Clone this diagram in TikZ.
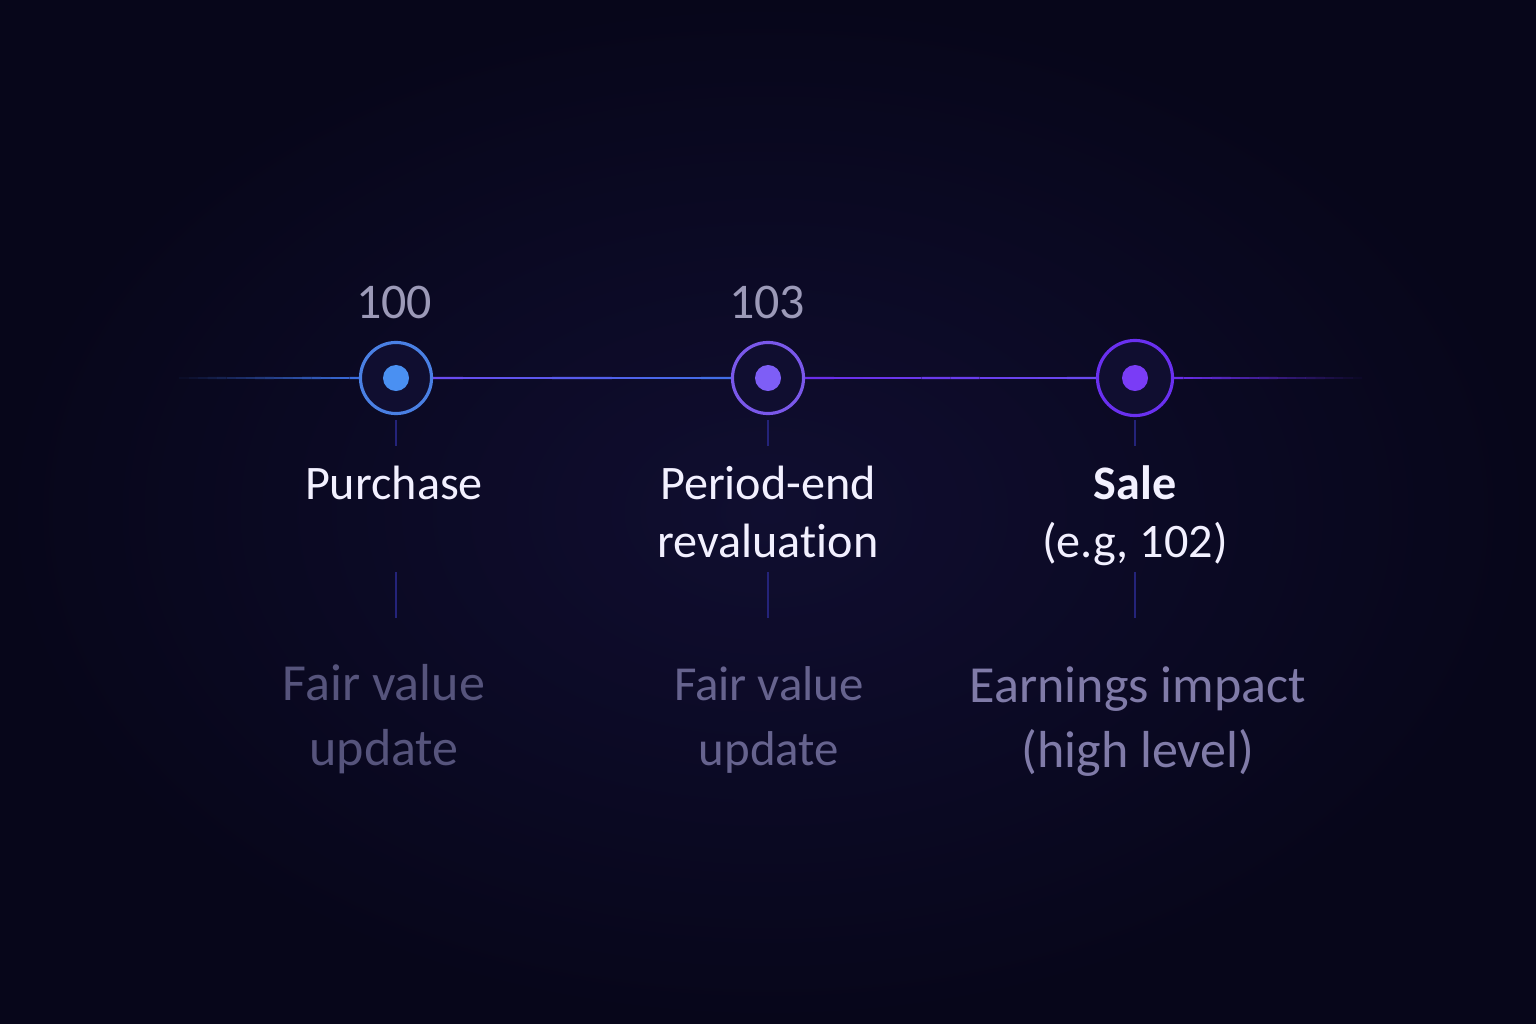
\documentclass[tikz,border=0pt]{standalone}
\usepackage{fontspec}
\setmainfont{Carlito}[Ligatures=NoCommon]
\usetikzlibrary{positioning, calc}
\definecolor{bgin}{HTML}{100E30}
\definecolor{bgout}{HTML}{07061A}
\definecolor{lineA}{HTML}{3D72E6}
\definecolor{lineB}{HTML}{6A4CF0}
\definecolor{lineC}{HTML}{6A2EEA}
\definecolor{ringA}{HTML}{4A80E4}
\definecolor{ringB}{HTML}{7A58EA}
\definecolor{ringC}{HTML}{6A30F0}
\definecolor{dotA}{HTML}{4A90F2}
\definecolor{dotB}{HTML}{7E5EF6}
\definecolor{dotC}{HTML}{7A3CF6}
\definecolor{numgray}{HTML}{9C9AB8}
\definecolor{labwhite}{HTML}{F2F0FF}
\definecolor{tickcol}{HTML}{24237A}
\definecolor{subA}{HTML}{56547C}
\definecolor{subB}{HTML}{66638E}
\definecolor{subC}{HTML}{807BA8}

\tikzset{
  ring/.style={draw, circle, line width=0.9pt, fill=bgin, inner sep=0pt, minimum size=0.71cm},
  dot/.style={circle, inner sep=0pt, minimum size=0.26cm},
  numlabel/.style={anchor=north, inner sep=0pt, text=numgray, font=\fontsize{14.2pt}{17pt}\selectfont},
  steplabel/.style={anchor=north, inner sep=0pt, align=center, text=labwhite, font=\fontsize{13.7pt}{16.5pt}\selectfont},
  sublabel/.style={anchor=north, inner sep=0pt, align=center, font=\fontsize{14.8pt}{18.5pt}\selectfont},
  tick/.style={tickcol, line width=0.3pt},
  mainline/.style={line width=0.6pt}
}

\begin{document}
\begin{tikzpicture}[x=0.01cm, y=-0.01cm]
\def\liney{378}

%Background
\useasboundingbox (0,0) rectangle (1536,1024);
\shade[inner color=bgin, outer color=bgout] (0,0) rectangle (1536,1024);

%Timeline points
\node (pur) at (396,\liney) [ring, draw=ringA] {};
\node (per) at (768,\liney) [ring, draw=ringB] {};
\node (sal) at (1135,\liney) [ring, draw=ringC, minimum size=0.75cm] {};
\coordinate (lstart) at (170,\liney);
\coordinate (lend) at (1362,\liney);

%Line
\foreach \i in {0,...,19} {
  \pgfmathsetmacro{\op}{\i/20}
  \draw[mainline, lineA, opacity=\op] ($(lstart)!\i/20!(pur.west)$) -- ($(lstart)!\i/20+0.05!(pur.west)$);
  \draw[mainline, lineC, opacity=1-\op] ($(sal.east)!\i/20!(lend)$) -- ($(sal.east)!\i/20+0.05!(lend)$);
}
\foreach \i in {0,...,9} {
  \pgfmathtruncatemacro{\mix}{100-10*\i}
  \draw[mainline, lineB!\mix!lineA] ($(pur.east)!\i/10!(per.west)$) -- ($(pur.east)!\i/10+0.1!(per.west)$);
  \draw[mainline, lineC!\mix!lineB] ($(per.east)!\i/10!(sal.west)$) -- ($(per.east)!\i/10+0.1!(sal.west)$);
}

%Dots
\node (purdot) at (pur) [dot, fill=dotA] {};
\node (perdot) at (per) [dot, fill=dotB] {};
\node (saldot) at (sal) [dot, fill=dotC] {};

%Values
\node (purval) at (394,285) [numlabel] {100};
\node (perval) at (767,285) [numlabel] {103};

%Step labels
\node (purlab) at (394,465) [steplabel] {Purchase};
\node (perlab) at (768,465) [steplabel] {Period-end\\revaluation};
\node (sallab) at (1135,465) [steplabel] {\bfseries Sale\\(e.g, 102)};

%Sub labels
\node (pursub) at (384,664) [sublabel, text=subA] {Fair value\\update};
\node (persub) at (769,666) [sublabel, text=subB, font=\fontsize{13.9pt}{18.5pt}\selectfont] {Fair value\\update};
\node (salsub) at (1138,666) [sublabel, text=subC] {Earnings impact\\(high level)};

%Ticks
\coordinate (pta) at (396,420); \coordinate (ptb) at (396,446);
\coordinate (qta) at (768,420); \coordinate (qtb) at (768,446);
\coordinate (sta) at (1135,420); \coordinate (stb) at (1135,446);
\coordinate (ptc) at (396,572); \coordinate (ptd) at (396,618);
\coordinate (qtc) at (768,572); \coordinate (qtd) at (768,618);
\coordinate (stc) at (1135,572); \coordinate (std) at (1135,618);
\draw[tick] (pta) -- (ptb);
\draw[tick] (qta) -- (qtb);
\draw[tick] (sta) -- (stb);
\draw[tick] (ptc) -- (ptd);
\draw[tick] (qtc) -- (qtd);
\draw[tick] (stc) -- (std);

\end{tikzpicture}
\end{document}
